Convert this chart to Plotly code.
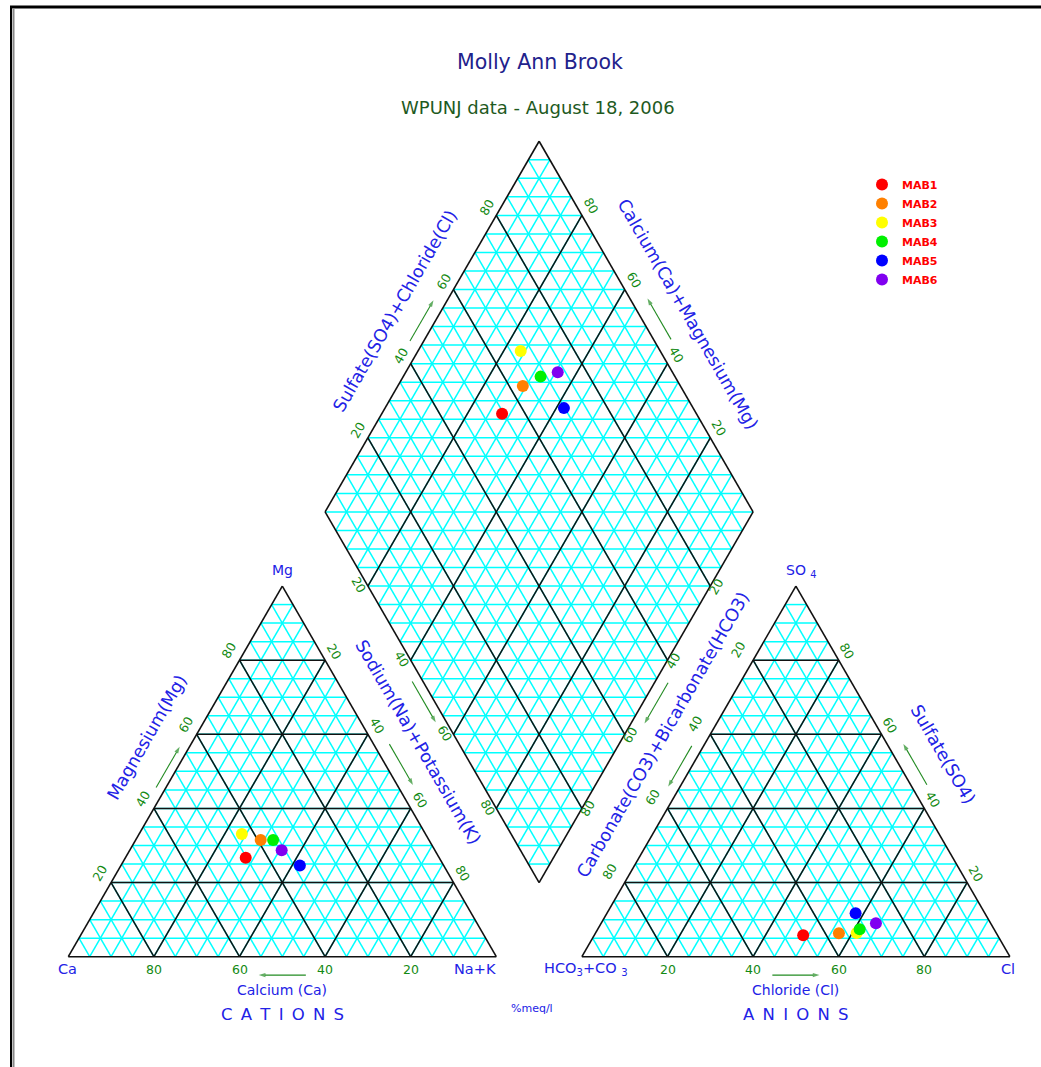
import numpy as np
import plotly.graph_objects as go

# ---------------- data (meq/l percentages) ----------------
samples = ["MAB1", "MAB2", "MAB3", "MAB4", "MAB5", "MAB6"]
colors = ["#FF0000", "#FF8000", "#FFFF00", "#00F000", "#0000FF", "#8000F0"]
ca = [45.2, 39.3, 42.9, 36.4, 33.6, 35.8]
mg = [26.7, 31.5, 33.1, 31.5, 24.6, 28.7]
na_k = [28.1, 29.2, 24.0, 32.1, 41.8, 35.5]
hco3_co3 = [45.4, 36.8, 32.6, 31.4, 30.2, 26.8]
so4 = [5.8, 6.3, 6.4, 7.4, 11.7, 9.0]
cl = [48.8, 56.9, 61.0, 61.2, 58.1, 64.2]
tick_values = [20, 40, 60, 80]

# ---------------- geometry ----------------
R3 = np.sqrt(3) / 2
GAP = 20.0
CA_C = np.array([0.0, 0.0]); NAK_C = np.array([100.0, 0.0]); MG_C = np.array([50.0, 100 * R3])
HCO_C = np.array([100 + GAP, 0.0]); CL_C = np.array([200 + GAP, 0.0]); SO_C = np.array([150 + GAP, 100 * R3])
DB = np.array([100 + GAP / 2, GAP * R3])
DL = DB + np.array([-50, 100 * R3]); DR = DB + np.array([50, 100 * R3]); DT = DB + np.array([0, 200 * R3])


def cat_xy(c, m, n):
    s = c + m + n
    m, n = 100 * m / s, 100 * n / s
    return n + m / 2, m * R3


def an_xy(h, s_, c):
    s = h + s_ + c
    s_, c = 100 * s_ / s, 100 * c / s
    return HCO_C[0] + c + s_ / 2, s_ * R3


def dia_xy(a, b):
    return DB[0] - a / 2 + b / 2, DB[1] + R3 * (a + b)


fig = go.Figure()


def add_lines(segs, color, width):
    xs, ys = [], []
    for p, q in segs:
        xs += [p[0], q[0], None]
        ys += [p[1], q[1], None]
    fig.add_trace(go.Scatter(x=xs, y=ys, mode="lines", line=dict(color=color, width=width),
                             hoverinfo="skip", showlegend=False))


def tri_segs(origin, vals):
    ox = origin[0]
    segs = []
    for v in vals:
        segs.append(((ox + v / 2, v * R3), (ox + 100 - v / 2, v * R3)))
        segs.append(((ox + 100 - v, 0), (ox + (100 - v) / 2, (100 - v) * R3)))
        segs.append(((ox + v, 0), (ox + v + (100 - v) / 2, (100 - v) * R3)))
    return segs


def dia_segs(vals, horiz):
    segs = []
    for v in vals:
        segs.append((dia_xy(v, 0), dia_xy(v, 100)))
        segs.append((dia_xy(0, v), dia_xy(100, v)))
    if horiz:
        for v in range(5, 200, 5):
            if v <= 100:
                segs.append((dia_xy(v, 0), dia_xy(0, v)))
            else:
                segs.append((dia_xy(100, v - 100), dia_xy(v - 100, 100)))
    return segs


fine = list(range(5, 100, 5))
add_lines(tri_segs(CA_C, fine) + tri_segs(HCO_C, fine) + dia_segs(fine, True), "#00FFFF", 1.5)
add_lines(tri_segs(CA_C, tick_values) + tri_segs(HCO_C, tick_values) + dia_segs(tick_values, False),
          "#111111", 1.5)
outline = [(CA_C, NAK_C), (NAK_C, MG_C), (MG_C, CA_C), (HCO_C, CL_C), (CL_C, SO_C), (SO_C, HCO_C),
           (DB, DL), (DL, DT), (DT, DR), (DR, DB)]
add_lines(outline, "#111111", 1.6)

# ---------------- labels ----------------
BLUE = "#2222E6"
GREEN = "#138A13"
AGREEN = "#228B22"
FONT = "DejaVu Sans"
ann = []


def text(x, y, t, size, color, angle=0, xanchor="center"):
    ann.append(dict(x=x, y=y, xref="x", yref="y", text=t, showarrow=False, textangle=angle,
                    xanchor=xanchor, yanchor="middle",
                    font=dict(family=FONT, size=size, color=color)))


U = lambda v: np.array(v, dtype=float)
# origin, unit direction, outward normal, tick offsets (normal, along), text angle
edges = {
    "cat_base": (NAK_C, U([-1, 0]), U([0, -1]), 2.9, 0.0, 0),
    "cat_left": (CA_C, U([0.5, R3]), U([-R3, 0.5]), 3.3, 0.7, -60),
    "cat_right": (MG_C, U([0.5, -R3]), U([R3, 0.5]), 2.8, -0.7, 60),
    "an_base": (HCO_C, U([1, 0]), U([0, -1]), 2.9, 0.0, 0),
    "an_left": (SO_C, U([-0.5, -R3]), U([-R3, 0.5]), 4.3, -0.45, -60),
    "an_right": (CL_C, U([-0.5, R3]), U([R3, 0.5]), 2.8, 0.8, 60),
    "d_ul": (DL, U([0.5, R3]), U([-R3, 0.5]), 2.85, 0.46, -60),
    "d_ur": (DR, U([-0.5, R3]), U([R3, 0.5]), 2.95, 0.9, 60),
    "d_ll": (DL, U([0.5, -R3]), U([-R3, -0.5]), 1.6, -1.2, 60),
    "d_lr": (DR, U([-0.5, -R3]), U([R3, -0.5]), 1.2, -0.6, -60),
}


def edge_pt(key, dist, off_n, off_a=0.0):
    o, d, n = edges[key][:3]
    return o + d * (dist + off_a) + n * off_n


for key, (o, d, n, on, oa, ang) in edges.items():
    for v in tick_values:
        p = edge_pt(key, v, on, oa)
        text(p[0], p[1], str(v), 12.5, GREEN, ang)

titles = [
    ("cat_left", "Magnesium(Mg)", 53.7, 9.8),
    ("cat_right", "Sodium(Na)+Potassium(K)", 47.4, 9.25),
    ("d_ul", "Sulfate(SO4)+Chloride(Cl)", 48.85, 9.4),
    ("d_ur", "Calcium(Ca)+Magnesium(Mg)", 47.7, 9.95),
    ("an_left", "Carbonate(CO3)+Bicarbonate(HCO3)", 45.7, 9.5),
    ("an_right", "Sulfate(SO4)", 48.9, 10.2),
]
for key, t, dist, off in titles:
    p = edge_pt(key, dist, off)
    text(p[0], p[1], t, 17.5, BLUE, edges[key][5])

# direction arrows (pointing toward increasing value), drawn as line + arrow marker
arrow_off = {"cat_base": 4.3, "an_base": 4.3, "cat_left": 2.0, "cat_right": 3.2, "d_ll": 2.2,
             "d_ul": 2.8, "d_ur": 3.55, "d_lr": 2.75, "an_left": 2.4, "an_right": 3.3}
for key, off in arrow_off.items():
    tail = edge_pt(key, 44.5, off)
    head = edge_pt(key, 55.5, off)
    fig.add_trace(go.Scatter(x=[tail[0], head[0]], y=[tail[1], head[1]], mode="lines+markers",
                             line=dict(color=AGREEN, width=1.1),
                             marker=dict(symbol=["circle", "arrow"], size=[0, 7], color=AGREEN,
                                         angleref="previous", line=dict(width=0)),
                             hoverinfo="skip", showlegend=False))

# ---------------- sample points ----------------
for i, name in enumerate(samples):
    cx, cy = cat_xy(ca[i], mg[i], na_k[i])
    ax_, ay_ = an_xy(hco3_co3[i], so4[i], cl[i])
    dx, dy = dia_xy(ca[i] + mg[i], so4[i] + cl[i])
    fig.add_trace(go.Scatter(x=[cx, ax_, dx], y=[cy, ay_, dy], mode="markers", name=name,
                             marker=dict(color=colors[i], size=12, line=dict(width=0)),
                             hoverinfo="skip"))

# corner & base labels
text(MG_C[0], MG_C[1] + 3.7, "Mg", 14, BLUE)
text(CA_C[0] - 0.3, -2.9, "Ca", 14.5, BLUE)
text(NAK_C[0] + 0.3, -2.9, "Na+K", 14.5, BLUE, xanchor="right")
text(HCO_C[0] - 9.4, -2.9, "HCO<sub>3</sub>+CO <sub>3</sub>", 14.5, BLUE, xanchor="left")
text(CL_C[0] - 0.4, -2.9, "Cl", 14.5, BLUE)
text(SO_C[0] + 1.3, MG_C[1] + 3.5, "SO <sub>4</sub>", 14, BLUE)
text(50, -7.8, "Calcium (Ca)", 14, BLUE)
text(170, -7.8, "Chloride (Cl)", 14, BLUE)
sp = "\u2002"
text(50, -13.6, sp.join("CATIONS"), 16.5, BLUE)
text(170, -13.6, sp.join("ANIONS"), 16.5, BLUE)
text(DB[0] - 1.7, -12.2, "%meq/l", 11, BLUE)

# titles (paper)
ann.append(dict(x=540 / 1041, y=1 - 62 / 1067, xref="paper", yref="paper", text="Molly Ann Brook",
                showarrow=False, xanchor="center", yanchor="middle",
                font=dict(family=FONT, size=20.5, color="#22228C")))
ann.append(dict(x=538 / 1041, y=1 - 107 / 1067, xref="paper", yref="paper",
                text="WPUNJ data - August 18, 2006", showarrow=False, xanchor="center",
                yanchor="middle", font=dict(family=FONT, size=18, color="#1E5A1E")))

# page frame
shapes = [
    dict(type="line", xref="paper", yref="paper", x0=10 / 1041, x1=1, y0=1 - 7 / 1067, y1=1 - 7 / 1067,
         line=dict(color="black", width=3)),
    dict(type="line", xref="paper", yref="paper", x0=11 / 1041, x1=11 / 1041, y0=0, y1=1 - 6 / 1067,
         line=dict(color="black", width=2)),
    dict(type="line", xref="paper", yref="paper", x0=13.5 / 1041, x1=13.5 / 1041, y0=0, y1=1 - 8 / 1067,
         line=dict(color="#888888", width=2)),
]

K = 4.28
fig.update_layout(
    width=1041, height=1067, margin=dict(l=0, r=0, t=0, b=0),
    paper_bgcolor="white", plot_bgcolor="white",
    xaxis=dict(range=[-68.3 / K, (1041 - 68.3) / K], visible=False, fixedrange=True),
    yaxis=dict(range=[-(1067 - 956.7) / K, 956.7 / K], visible=False, fixedrange=True),
    annotations=ann, shapes=shapes,
    showlegend=True,
    legend=dict(x=862 / 1041, y=1 - 170 / 1067, xanchor="left", yanchor="top",
                bgcolor="rgba(0,0,0,0)", itemwidth=30, tracegroupgap=0,
                font=dict(family=FONT, size=11, color="#FF0000", weight="bold")),
)

fig.write_html("out.html", config={"displayModeBar": False},
               post_script="document.body.style.margin='0px';document.body.style.overflow='hidden';")
